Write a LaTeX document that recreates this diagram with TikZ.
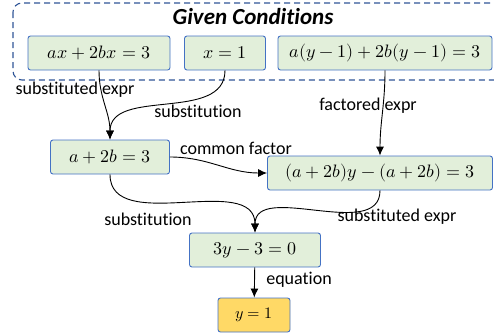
\documentclass[tikz,border=0pt]{standalone}
\usepackage{unicode-math}
\setmainfont{Carlito}[Ligatures=NoCommon]
\setmathfont{Latin Modern Math}
\usetikzlibrary{arrows.meta,positioning}
\definecolor{gcblue}{RGB}{47,85,151}
\definecolor{gcedge}{RGB}{68,114,196}
\definecolor{gcgreen}{RGB}{226,239,218}
\definecolor{gcgold}{RGB}{255,217,102}

\begin{document}
\begin{tikzpicture}[x=1pt, y=-1pt,
  group/.style={draw=gcblue, line width=1.1pt, dash pattern=on 6pt off 4pt, rounded corners=9pt},
  title/.style={font=\fontsize{23}{26}\selectfont\bfseries\itshape, inner sep=0pt},
  expr/.style={rectangle, rounded corners=2.5pt, draw=gcedge, line width=0.9pt, fill=gcgreen,
    minimum height=34pt, inner xsep=0pt, font=\fontsize{18}{20}\selectfont},
  result/.style={expr, fill=gcgold, font=\fontsize{16}{18}\selectfont},
  lbl/.style={font=\fontsize{18}{20}\selectfont, inner sep=0pt},
  arr/.style={-{Latex[length=9pt,width=8pt]}, line width=0.9pt, black}]

\useasboundingbox (0,0) rectangle (494,335);

% given conditions
\draw[group] (13,3) rectangle (505,80);
\node[title] (given) at (253,17) {Given Conditions};
\node[expr, minimum width=142pt] (axb) at (99,53) {$ax+2bx=3$};
\node[expr, minimum width=81pt] (xone) at (225,53) {$x=1$};
\node[expr, minimum width=214pt] (ayb) at (385,53) {$a(y-1)+2b(y-1)=3$};

% derived steps
\node[expr, minimum width=119pt] (ab) at (110,157) {$a+2b=3$};
\node[expr, minimum width=225pt] (fac) at (380,173) {$(a+2b)y-(a+2b)=3$};
\node[expr, minimum width=131pt] (lin) at (255,250) {$3y-3=0$};
\node[result, minimum width=72pt] (sol) at (254,315) {$y=1$};

% edge labels
\node[lbl] (l1) at (75,90) {substituted expr};
\node[lbl] (l2) at (198,111) {substitution};
\node[lbl] (l3) at (368,106) {factored expr};
\node[lbl] (l4) at (236,148) {common factor};
\node[lbl] (l5) at (148,219) {substitution};
\node[lbl] (l6) at (397,217) {substituted expr};
\node[lbl] (l7) at (299,280) {equation};

\draw[arr] (axb.south) to[out=-90, in=90] (ab.north);
\draw[arr] (xone.south) to[out=-90, in=90] (ab.north);
\draw[arr] (ayb.south) to[out=-90, in=90] (fac.north);
\draw[arr] (ab.east) to[out=0, in=180] (fac.west);
\draw[arr] (ab.south) to[out=-90, in=90] (lin.north);
\draw[arr] (fac.south) to[out=-90, in=90] (lin.north);
\draw[arr] (lin) -- (sol);
\end{tikzpicture}
\end{document}
